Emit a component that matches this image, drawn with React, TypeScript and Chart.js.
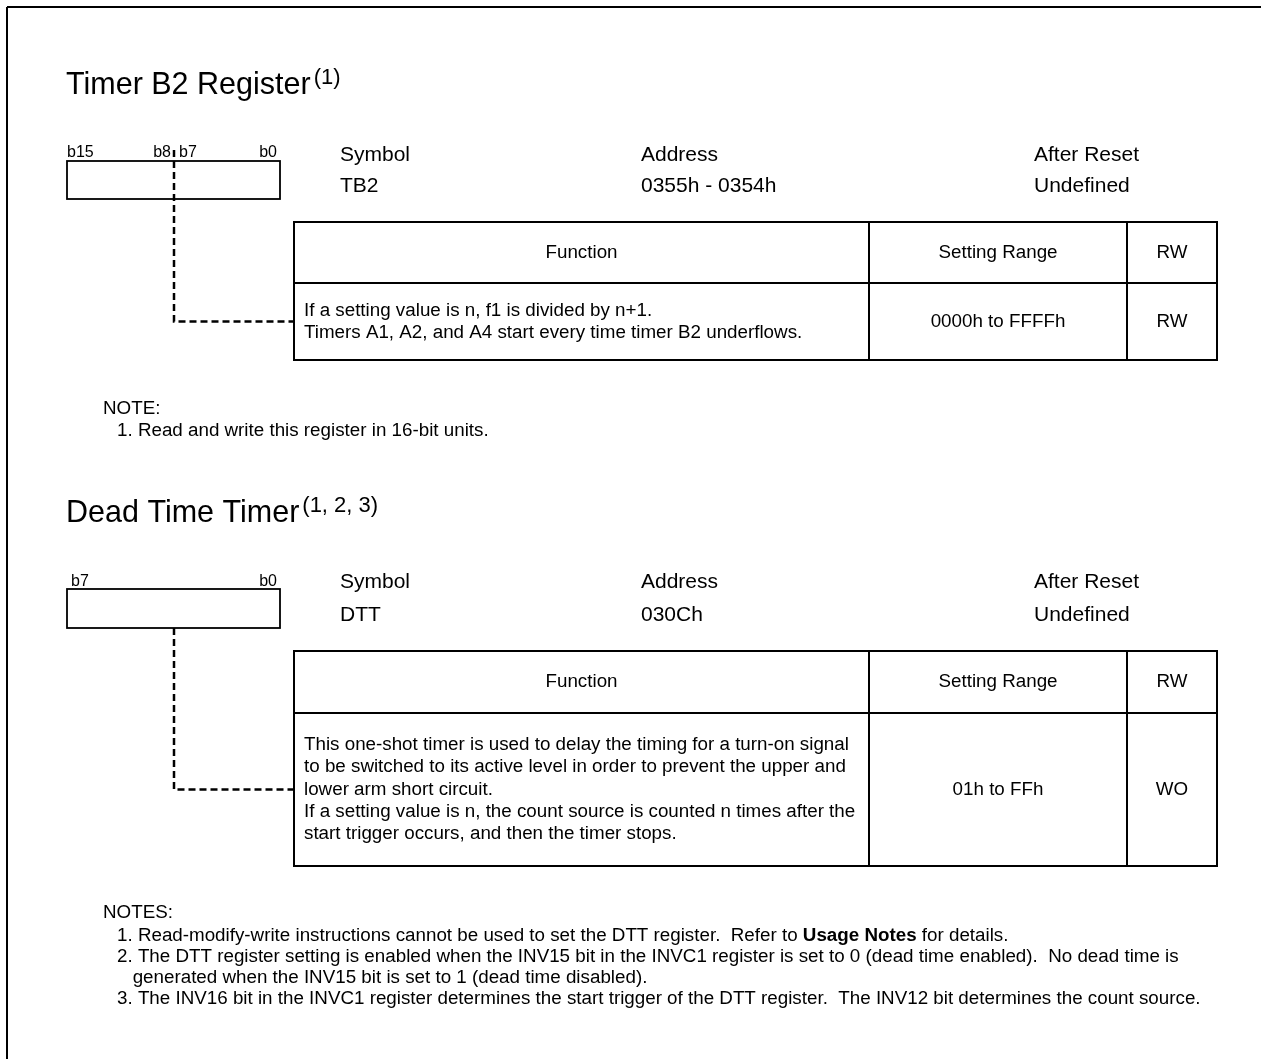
import React, { useEffect, useRef } from "react";
import { Chart, registerables } from "chart.js";
Chart.register(...registerables);

const FONT = '"Liberation Sans", Arial, Helvetica, sans-serif';

// ---- content ----
const registerTitles = ["Timer B2 Register", "Dead Time Timer"];
const titleRefs = ["(1)", "(1, 2, 3)"];
const bitLabelsTB2 = ["b15", "b8", "b7", "b0"];
const bitLabelsDTT = ["b7", "b0"];
const infoHeaders = ["Symbol", "Address", "After Reset"];
const symbols = ["TB2", "DTT"];
const addresses = ["0355h - 0354h", "030Ch"];
const afterReset = ["Undefined", "Undefined"];
const tableHeaders = ["Function", "Setting Range", "RW"];
const functionTB2 = [
  "If a setting value is n, f1 is divided by n+1.",
  "Timers A1, A2, and A4 start every time timer B2 underflows.",
];
const functionDTT = [
  "This one-shot timer is used to delay the timing for a turn-on signal",
  "to be switched to its active level in order to prevent the upper and",
  "lower arm short circuit.",
  "If a setting value is n, the count source is counted n times after the",
  "start trigger occurs, and then the timer stops.",
];
const settingRanges = ["0000h to FFFFh", "01h to FFh"];
const accessModes = ["RW", "WO"];
const noteHeads = ["NOTE:", "NOTES:"];
const notesTB2 = ["1. Read and write this register in 16-bit units."];
const notesDTT = [
  "1. Read-modify-write instructions cannot be used to set the DTT register.  Refer to **Usage Notes** for details.",
  "2. The DTT register setting is enabled when the INV15 bit in the INVC1 register is set to 0 (dead time enabled).  No dead time is",
  "   generated when the INV15 bit is set to 1 (dead time disabled).",
  "3. The INV16 bit in the INVC1 register determines the start trigger of the DTT register.  The INV12 bit determines the count source.",
];

// ---- layout (page units, mapped through the chart's linear scales) ----
const W = 1261;
const H = 1059;
const boxX = [67, 280];
const connectorX = 174;
const infoX = [340, 641, 1034];
const colX = [294, 869, 1127, 1217];
const TABLE_FONT = 18.8;
const NOTE_FONT = 18.8;
const sections = [
  {
    titleBase: 94, bitBase: 157, boxTop: 161, boxBottom: 199, connTop: 150,
    info1: 161, info2: 192, tTop: 222, tHead: 283, tBottom: 360,
    noteHead: 414, noteBase: 436, bits: bitLabelsTB2, func: functionTB2, notes: notesTB2,
  },
  {
    titleBase: 522, bitBase: 586, boxTop: 589, boxBottom: 628, connTop: 628,
    info1: 588, info2: 621, tTop: 651, tHead: 713, tBottom: 866,
    noteHead: 918, noteBase: 941, bits: bitLabelsDTT, func: functionDTT, notes: notesDTT,
  },
];

const connectorData = sections.map((s) => {
  const mid = (s.tHead + s.tBottom) / 2;
  return [
    { x: connectorX, y: s.connTop },
    { x: connectorX, y: mid },
    { x: colX[0], y: mid },
  ];
});

const diagramPlugin = {
  id: "registerDiagram",
  beforeDatasetsDraw(chart: any) {
    const ctx = chart.ctx as CanvasRenderingContext2D;
    const sx = chart.scales.x;
    const sy = chart.scales.y;
    const X = (v: number) => sx.getPixelForValue(v);
    const Y = (v: number) => sy.getPixelForValue(v);
    const text = (
      s: string, x: number, y: number, size: number,
      align: CanvasTextAlign = "left", base: CanvasTextBaseline = "alphabetic", weight = "normal"
    ) => {
      ctx.font = `${weight} ${size}px ${FONT}`;
      ctx.textAlign = align;
      ctx.textBaseline = base;
      ctx.fillStyle = "#000";
      ctx.fillText(s, X(x), Y(y));
      return ctx.measureText(s).width;
    };
    const line = (x1: number, y1: number, x2: number, y2: number, w: number) => {
      ctx.beginPath();
      ctx.lineWidth = w;
      ctx.strokeStyle = "#000";
      ctx.setLineDash([]);
      ctx.moveTo(X(x1), Y(y1));
      ctx.lineTo(X(x2), Y(y2));
      ctx.stroke();
    };
    const rect = (x1: number, y1: number, x2: number, y2: number, w: number) => {
      ctx.lineWidth = w;
      ctx.strokeStyle = "#000";
      ctx.setLineDash([]);
      ctx.strokeRect(X(x1), Y(y1), X(x2) - X(x1), Y(y2) - Y(y1));
    };

    ctx.save();
    // page frame
    line(7, 7, W, 7, 2);
    line(7, 7, 7, H, 2);

    sections.forEach((s, i) => {
      // title with reference superscript
      const tw = text(registerTitles[i], 66, s.titleBase, 30.5);
      text(titleRefs[i], 66 + tw + 3, s.titleBase - 10, 22);

      // bit labels
      if (s.bits.length === 4) {
        text(s.bits[0], boxX[0], s.bitBase, 16);
        text(s.bits[1], connectorX - 3, s.bitBase, 16, "right");
        text(s.bits[2], connectorX + 5, s.bitBase, 16);
        text(s.bits[3], boxX[1] - 3, s.bitBase, 16, "right");
      } else {
        text(s.bits[0], boxX[0] + 4, s.bitBase, 16);
        text(s.bits[1], boxX[1] - 3, s.bitBase, 16, "right");
      }
      rect(boxX[0], s.boxTop, boxX[1], s.boxBottom, 1.8);

      // symbol / address / reset
      text(infoHeaders[0], infoX[0], s.info1, 21);
      text(infoHeaders[1], infoX[1], s.info1, 21);
      text(infoHeaders[2], infoX[2], s.info1, 21);
      text(symbols[i], infoX[0], s.info2, 21);
      text(addresses[i], infoX[1], s.info2, 21);
      text(afterReset[i], infoX[2], s.info2, 21);

      // table
      rect(colX[0], s.tTop, colX[3], s.tBottom, 2);
      line(colX[0], s.tHead, colX[3], s.tHead, 2);
      line(colX[1], s.tTop, colX[1], s.tBottom, 2);
      line(colX[2], s.tTop, colX[2], s.tBottom, 2);
      const hMid = (s.tTop + s.tHead) / 2;
      const bMid = (s.tHead + s.tBottom) / 2;
      for (let c = 0; c < 3; c++) {
        text(tableHeaders[c], (colX[c] + colX[c + 1]) / 2, hMid, TABLE_FONT, "center", "middle");
      }
      const lh = 22.3;
      const n = s.func.length;
      s.func.forEach((ln, k) => {
        text(ln, colX[0] + 10, bMid + (k - (n - 1) / 2) * lh, TABLE_FONT, "left", "middle");
      });
      text(settingRanges[i], (colX[1] + colX[2]) / 2, bMid, TABLE_FONT, "center", "middle");
      text(accessModes[i], (colX[2] + colX[3]) / 2, bMid, TABLE_FONT, "center", "middle");

      // notes
      text(noteHeads[i], 103, s.noteHead, NOTE_FONT);
      s.notes.forEach((ln, k) => {
        const y = s.noteBase + k * 21;
        let x = 117;
        const parts = ln.split("**");
        parts.forEach((p, j) => {
          const w = text(p, x, y, NOTE_FONT, "left", "alphabetic", j % 2 === 1 ? "bold" : "normal");
          x += w;
        });
      });
    });
    ctx.restore();
  },
};

export default function App() {
  const ref = useRef<HTMLCanvasElement | null>(null);
  useEffect(() => {
    if (!ref.current) return;
    const chart = new Chart(ref.current, {
      type: "scatter",
      data: {
        datasets: connectorData.map((d) => ({
          data: d,
          showLine: true,
          borderColor: "#000",
          borderWidth: 2.5,
          borderDash: [7, 4],
          pointRadius: 0,
          fill: false,
          tension: 0,
        })),
      },
      options: {
        responsive: false,
        animation: false,
        events: [],
        layout: { padding: 0 },
        scales: {
          x: { type: "linear", min: 0, max: W, display: false },
          y: { type: "linear", min: 0, max: H, reverse: true, display: false },
        },
        plugins: { legend: { display: false }, tooltip: { enabled: false } },
      },
      plugins: [diagramPlugin],
    });
    return () => chart.destroy();
  }, []);
  return (
    <div style={{ position: "absolute", left: 0, top: 0, width: W, height: H, background: "#fff" }}>
      <canvas ref={ref} width={W} height={H} style={{ display: "block", width: W, height: H }} />
    </div>
  );
}
